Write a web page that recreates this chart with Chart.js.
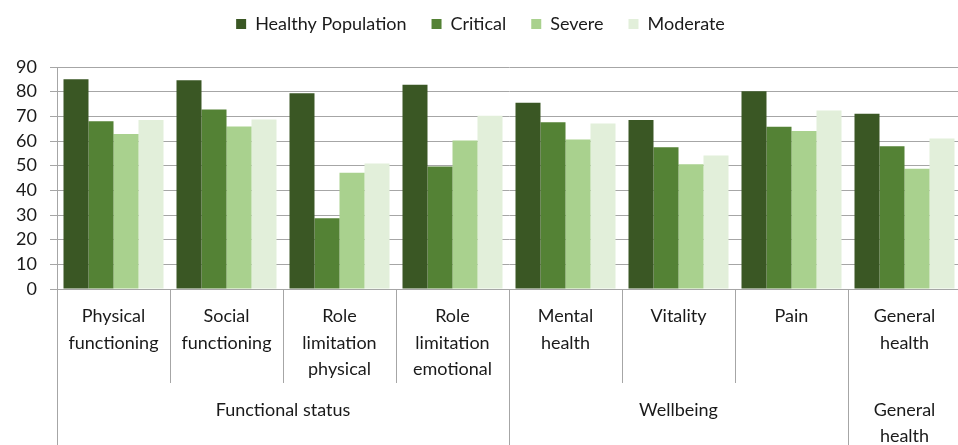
<!DOCTYPE html>
<html lang="en">
<head>
<meta charset="utf-8" />
<title>Health scores by group</title>
<script src="https://cdn.jsdelivr.net/npm/chart.js@4.4.1/dist/chart.umd.min.js"></script>
<style>
  html, body { margin: 0; padding: 0; overflow: hidden; background: #fff; }
</style>
</head>
<body>
<canvas id="myChart" width="961" height="445"></canvas>
<script>
// categories (two tiers)
var categories = [
    ['Physical', 'functioning'],
    ['Social', 'functioning'],
    ['Role', 'limitation', 'physical'],
    ['Role', 'limitation', 'emotional'],
    ['Mental', 'health'],
    ['Vitality'],
    ['Pain'],
    ['General', 'health']
];
var groups = [
    { label: ['Functional status'], from: 0, to: 3 },
    { label: ['Wellbeing'], from: 4, to: 6 },
    { label: ['General', 'health'], from: 7, to: 7 }
];

// series values
var healthy  = [85.0, 84.6, 79.4, 82.8, 75.5, 68.5, 80.2, 71.0];
var critical = [68.0, 72.8, 28.7, 49.7, 67.6, 57.5, 65.8, 57.9];
var severe   = [62.8, 65.9, 47.1, 60.2, 60.6, 50.6, 64.1, 48.8];
var moderate = [68.5, 68.7, 50.9, 70.2, 67.1, 54.1, 72.4, 61.0];

var yTicks = [0, 10, 20, 30, 40, 50, 60, 70, 80, 90];

var FONT = 'Lato, "Open Sans", sans-serif';
var GRID = '#A6A6A6';
var TOP_SHIFT = 10;   // legend sits higher than its padding would put it

// fixes the legend box height so the plot starts where the original does
var legendHeight = {
    id: 'legendHeight',
    afterInit: function(chart) {
        var legend = chart.legend;
        var fit = legend.fit;
        legend.fit = function() {
            fit.call(this);
            this.height = 67 + TOP_SHIFT;
        };
    }
};

// draws the lower tier of the category axis and its separators
var groupAxis = {
    id: 'groupAxis',
    afterDraw: function(chart) {
        var ctx = chart.ctx;
        var x = chart.scales.x;
        var area = chart.chartArea;
        var bottom = chart.height;
        var shortEnd = area.bottom + 94;
        ctx.save();
        ctx.strokeStyle = GRID;
        ctx.lineWidth = 1;
        // y axis continues down through the label tiers
        var left = Math.round(x.getPixelForValue(-0.5)) + 0.5;
        ctx.beginPath();
        ctx.moveTo(left, area.bottom);
        ctx.lineTo(left, bottom);
        ctx.stroke();
        groups.forEach(function(g) {
            for (var i = g.from; i < g.to; i++) {
                var px = Math.round(x.getPixelForValue(i + 0.5)) + 0.5;
                ctx.beginPath();
                ctx.moveTo(px, area.bottom);
                ctx.lineTo(px, shortEnd);
                ctx.stroke();
            }
            var ex = Math.round(x.getPixelForValue(g.to + 0.5)) + 0.5;
            ctx.beginPath();
            ctx.moveTo(ex, area.bottom);
            ctx.lineTo(ex, bottom);
            ctx.stroke();
            ctx.fillStyle = '#1a1a1a';
            ctx.font = '18px ' + FONT;
            ctx.textAlign = 'center';
            ctx.textBaseline = 'middle';
            var cx = x.getPixelForValue((g.from + g.to) / 2);
            g.label.forEach(function(line, k) {
                ctx.fillText(line, cx, area.bottom + 121 + k * 26.5);
            });
        });
        ctx.restore();
    }
};

var ctx = document.getElementById('myChart');
var myChart = new Chart(ctx, {
    type: 'bar',
    data: {
        labels: categories,
        datasets: [
            { label: 'Healthy Population', data: healthy,  backgroundColor: '#3A5724' },
            { label: 'Critical',           data: critical, backgroundColor: '#548235' },
            { label: 'Severe',             data: severe,   backgroundColor: '#A9D18E' },
            { label: 'Moderate',           data: moderate, backgroundColor: '#E2EFDA' }
        ]
    },
    options: {
        responsive: false,
        animation: false,
        layout: { padding: { top: -TOP_SHIFT, left: 0, right: 0, bottom: 0 } },
        datasets: {
            bar: { categoryPercentage: 0.885, barPercentage: 1.0 }
        },
        plugins: {
            legend: {
                position: 'top',
                labels: {
                    boxWidth: 10,
                    boxHeight: 10,
                    padding: 25,
                    color: '#1a1a1a',
                    font: { family: FONT, size: 18 }
                }
            },
            tooltip: { enabled: false }
        },
        scales: {
            x: {
                type: 'category',
                offset: true,
                grid: { display: false, drawTicks: false },
                border: { display: false },
                ticks: {
                    autoSkip: false,
                    maxRotation: 0,
                    padding: 14,
                    color: '#1a1a1a',
                    font: { family: FONT, size: 18, lineHeight: 1.47 }
                },
                afterFit: function(scale) { scale.height = 156; }
            },
            y: {
                min: 0,
                max: 90,
                afterBuildTicks: function(scale) {
                    scale.ticks = yTicks.map(function(v) { return { value: v }; });
                },
                grid: { color: GRID, lineWidth: 1, tickLength: 7 },
                border: { color: GRID },
                ticks: {
                    padding: 13,
                    color: '#1a1a1a',
                    font: { family: FONT, size: 18 }
                },
                afterFit: function(scale) { scale.width = 57; }
            }
        }
    },
    plugins: [legendHeight, groupAxis]
});
</script>
</body>
</html>
